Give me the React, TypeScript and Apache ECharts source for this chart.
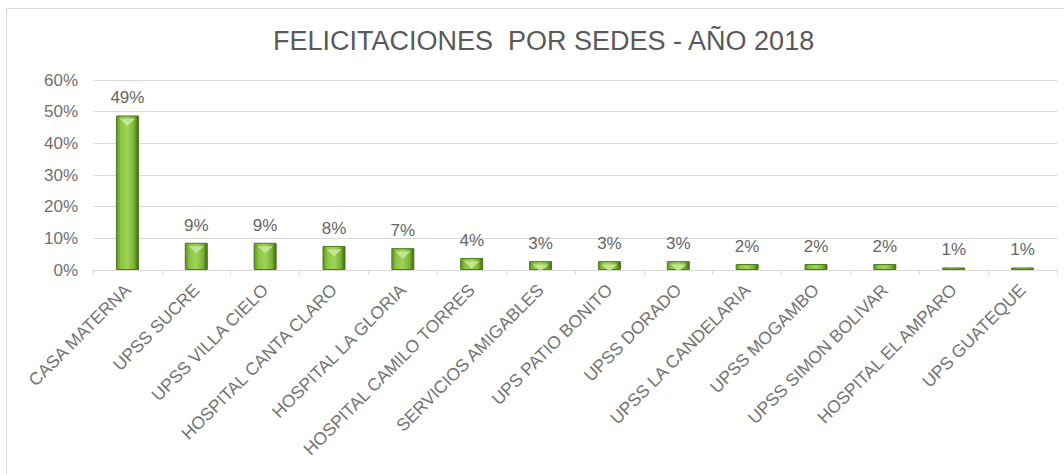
import React, { useEffect, useRef } from "react";
import * as echarts from "echarts";

const categories = [
  "CASA MATERNA",
  "UPSS SUCRE",
  "UPSS VILLA CIELO",
  "HOSPITAL CANTA CLARO",
  "HOSPITAL LA GLORIA",
  "HOSPITAL CAMILO TORRES",
  "SERVICIOS AMIGABLES",
  "UPS PATIO BONITO",
  "UPSS DORADO",
  "UPSS LA CANDELARIA",
  "UPSS MOGAMBO",
  "UPSS SIMON BOLIVAR",
  "HOSPITAL EL AMPARO",
  "UPS GUATEQUE",
];
const values = [0.488, 0.086, 0.086, 0.076, 0.069, 0.038, 0.028, 0.028, 0.028, 0.019, 0.019, 0.019, 0.008, 0.008];
const yTicks = [0, 0.1, 0.2, 0.3, 0.4, 0.5, 0.6];
const title = "FELICITACIONES  POR SEDES - AÑO 2018";

export default function App() {
  const ref = useRef<HTMLDivElement>(null);
  useEffect(() => {
    if (!ref.current) return;
    const chart = echarts.init(ref.current, undefined, { renderer: "svg" });
    const font = "'Liberation Sans', Arial, sans-serif";
    chart.setOption({
      animation: false,
      backgroundColor: "#ffffff",
      textStyle: { fontFamily: font },
      title: {
        text: title,
        left: 268,
        top: 22,
        textStyle: { fontFamily: font, fontSize: 27, fontWeight: "normal", color: "#595959" },
      },
      graphic: [
        {
          type: "rect",
          shape: { x: 6.5, y: 8.5, width: 1070, height: 480 },
          style: { fill: "none", stroke: "#d9d9d9", lineWidth: 1 },
          silent: true,
        },
      ],
      grid: { left: 93, right: 7, top: 80, bottom: 204, containLabel: false },
      xAxis: {
        type: "category",
        data: categories,
        axisLine: { lineStyle: { color: "#d9d9d9" } },
        axisTick: { show: true, length: 5, lineStyle: { color: "#d9d9d9" } },
        axisLabel: {
          interval: 0,
          rotate: 45,
          fontSize: 17.5,
          color: "#747474",
          margin: 17,
          fontFamily: font,
        },
      },
      yAxis: {
        type: "value",
        min: 0,
        max: 0.6,
        interval: 0.1,
        axisLine: { show: false },
        axisTick: { show: false },
        splitLine: { lineStyle: { color: "#d9d9d9" } },
        axisLabel: {
          fontSize: 17,
          color: "#707070",
          margin: 15,
          fontFamily: font,
          formatter: (v: number) => {
            const t = yTicks.find((x) => Math.abs(x - v) < 1e-9);
            return Math.round((t ?? v) * 100) + "%";
          },
        },
      },
      series: [
        {
          type: "bar",
          data: values,
          barWidth: 23,
          itemStyle: {
            color: new echarts.graphic.LinearGradient(0, 0, 1, 0, [
              { offset: 0, color: "#5f8f26" },
              { offset: 0.2, color: "#8cc63f" },
              { offset: 0.5, color: "#9ed35a" },
              { offset: 0.8, color: "#7ab434" },
              { offset: 1, color: "#3f6416" },
            ]),
            borderColor: "#4d7a1c",
            borderWidth: 1,
          },
          label: {
            show: true,
            position: "top",
            distance: 9,
            fontSize: 17,
            color: "#666666",
            fontFamily: font,
            formatter: (p: any) => Math.round(p.value * 100) + "%",
          },
          z: 2,
        },
        {
          type: "pictorialBar",
          data: values.map((v) => (v >= 0.025 ? v : "-")),
          symbol: "path://M0,0 L10,0 L5,6 Z",
          symbolPosition: "end",
          symbolSize: [15, 7],
          symbolOffset: [0, "50%"],
          itemStyle: { color: "#c6e89a", opacity: 0.9 },
          silent: true,
          z: 3,
        },
      ],
    });
    return () => chart.dispose();
  }, []);
  return (
    <div
      ref={ref}
      style={{ position: "fixed", left: 0, top: 0, width: 1064, height: 474 }}
    />
  );
}
